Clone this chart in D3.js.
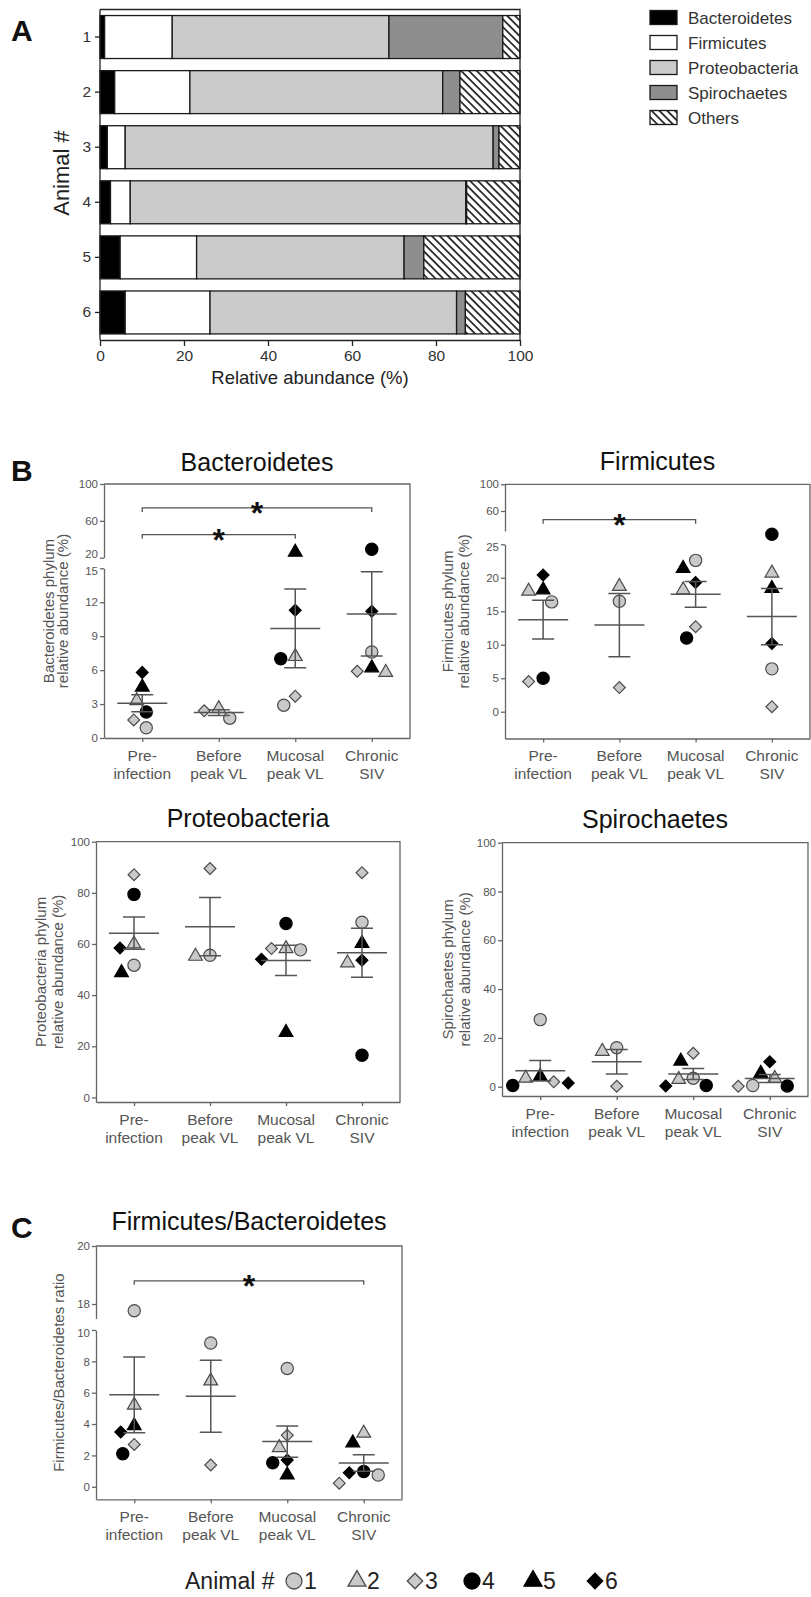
<!DOCTYPE html>
<head>
  <meta charset="utf-8">
  <style>
    body { margin: 0; background: #fff; }
    svg text { font-family: "Liberation Sans", Arial, sans-serif; }
  </style>
  <script src="https://cdn.jsdelivr.net/npm/d3@7"></script>
</head>
<body>
<script>
// ---- panel A: composition per animal (%)
const animals = ['1', '2', '3', '4', '5', '6'];
const phyla = ['Bacteroidetes', 'Firmicutes', 'Proteobacteria', 'Spirochaetes', 'Others'];
const compBacteroidetes  = [1.1, 3.5, 1.75, 2.5, 4.8, 6.0];
const compFirmicutes     = [16.1, 17.9, 4.25, 4.7, 18.2, 20.2];
const compProteobacteria = [51.6, 60.2, 87.6, 79.9, 49.4, 58.7];
const compSpirochaetes   = [27.1, 4.1, 1.4, 0.2, 4.7, 2.1];
const compOthers         = [4.1, 14.3, 5.0, 12.7, 22.9, 13.0];
const abundanceTicks = [0, 20, 40, 60, 80, 100];

// ---- panels B/C: one row per time point, animals 1..6 (null = no sample)
const timepoints = [['Pre-', 'infection'], ['Before', 'peak VL'], ['Mucosal', 'peak VL'], ['Chronic', 'SIV']];
const bacteroidetes = [
  [0.9, 3.3, 1.6, 2.3, 4.5, 5.8],
  [1.75, 2.6, 2.4, null, null, null],
  [2.9, 7.2, 3.7, 7.0, 26, 11.3],
  [7.6, 5.8, 5.9, 29.1, 6.2, 11.2]
];
const firmicutes = [
  [16.4, 18.0, 4.5, 5.0, 18.2, 20.4],
  [16.5, 18.7, 3.6, null, null, null],
  [22.6, 18.2, 12.7, 11.0, 21.4, 19.3],
  [6.4, 20.7, 0.75, 28.8, 18.4, 10.2]
];
const proteobacteria = [
  [51.7, 60, 87.1, 79.4, 48.8, 58.4],
  [55.6, 55.2, 89.5, null, null, null],
  [57.7, 58.2, 58.2, 68, 25.4, 54],
  [68.5, 52.6, 87.9, 16.5, 60.2, 53.6]
];
const spirochaetes = [
  [27.5, 3.5, 2.0, 0.5, 4.2, 1.5],
  [16, 14.5, 0.2, null, null, null],
  [3.5, 3.0, 13.7, 0.5, 10.5, 0.3],
  [0.5, 3.4, 0.2, 0.3, 5.5, 10.2]
];
const fbRatio = [
  [17.77, 5.2, 2.7, 2.1, 3.9, 3.5],
  [9.17, 6.75, 1.39, null, null, null],
  [7.55, 2.5, 3.28, 1.53, 0.75, 1.7],
  [0.75, 3.42, 0.23, 0.97, 2.8, 0.9]
];
// significance brackets: [from, to, level in axis units]
const bactSig = [[0, 3, 74], [0, 2, 45]];
const firmSig = [[0, 2, 47]];
const ratioSig = [[0, 3, 18.8]];

const FONT = '"Liberation Sans", Arial, sans-serif';

const svg = d3.select('body').append('svg')
  .attr('width', 811)
  .attr('height', 1597);

const defs = svg.append('defs');
defs.append('pattern')
  .attr('id', 'hatch')
  .attr('patternUnits', 'userSpaceOnUse')
  .attr('width', 5.5).attr('height', 5.5)
  .attr('patternTransform', 'rotate(-45)')
  .call(p => {
    p.append('rect').attr('width', 5.5).attr('height', 5.5).attr('fill', '#fff');
    p.append('line').attr('x1', 1).attr('x2', 1).attr('y1', 0).attr('y2', 5.5)
      .attr('stroke', '#111').attr('stroke-width', 1.6);
  });

const letter = (t, x, y) => svg.append('text').text(t)
  .attr('x', x).attr('y', y)
  .attr('font-size', 30).attr('font-weight', 'bold').attr('fill', '#111');

// ================= Panel A =================
const drawA = () => {
  const rows = animals.map((a, i) => ({
    animal: a,
    Bacteroidetes: compBacteroidetes[i],
    Firmicutes: compFirmicutes[i],
    Proteobacteria: compProteobacteria[i],
    Spirochaetes: compSpirochaetes[i],
    Others: compOthers[i]
  }));
  const fills = ['#000', '#fff', '#cbcbcb', '#8e8e8e', 'url(#hatch)'];

  const x = d3.scaleLinear().domain([0, 100]).range([100, 520]);
  const y = d3.scaleBand().domain(animals).range([9.5, 340])
    .paddingInner(0.22).paddingOuter(0.11);

  const stack = d3.stack().keys(phyla)(rows);
  const g = svg.append('g');

  g.selectAll('g.layer')
    .data(stack)
    .enter()
    .append('g')
    .attr('fill', (d, i) => fills[i])
    .selectAll('rect')
    .data(d => d)
    .enter()
    .append('rect')
    .attr('x', d => x(d[0]))
    .attr('width', d => x(d[1]) - x(d[0]))
    .attr('y', d => y(d.data.animal))
    .attr('height', y.bandwidth())
    .attr('stroke', '#1a1a1a')
    .attr('stroke-width', 1.3);

  // frame
  g.append('path')
    .attr('d', `M100,9.5H520V340`)
    .attr('fill', 'none').attr('stroke', '#222').attr('stroke-width', 1.3);

  const xa = g.append('g').attr('transform', 'translate(0,340)')
    .call(d3.axisBottom(x).tickValues(abundanceTicks).tickSize(6).tickSizeOuter(0).tickPadding(4));
  const ya = g.append('g').attr('transform', 'translate(100,0)')
    .call(d3.axisLeft(y).tickSize(5).tickSizeOuter(0).tickPadding(4));
  [xa, ya].forEach(a => {
    a.selectAll('path,line').attr('stroke', '#222').attr('stroke-width', 1.3);
    a.selectAll('text').attr('font-size', 15.5).attr('fill', '#333').style('font-family', FONT);
  });
  ya.select('.domain').attr('d', 'M0,9.5V340');

  g.append('text').text('Relative abundance (%)')
    .attr('x', 310).attr('y', 384).attr('text-anchor', 'middle')
    .attr('font-size', 18.5).attr('fill', '#222');
  g.append('text').text('Animal #')
    .attr('transform', 'translate(69,173) rotate(-90)')
    .attr('text-anchor', 'middle').attr('font-size', 22).attr('fill', '#222');

  // legend
  const lg = g.selectAll('g.leg')
    .data(phyla)
    .enter()
    .append('g')
    .attr('transform', (d, i) => `translate(650,${10.5 + i * 25})`);
  lg.append('rect')
    .attr('width', 27).attr('height', 14)
    .attr('fill', (d, i) => fills[i])
    .attr('stroke', '#1a1a1a').attr('stroke-width', 1.3);
  lg.append('text').text(d => d)
    .attr('x', 38).attr('y', 13)
    .attr('font-size', 17).attr('fill', '#333');

  letter('A', 11, 41);
};

// ================= dot plots =================
const symbolTypes = [d3.symbolCircle, d3.symbolTriangle, d3.symbolSquare,
                     d3.symbolCircle, d3.symbolTriangle, d3.symbolSquare];
const symbolSizes = [118, 82, 70, 118, 82, 70];
const markFill = i => (i < 3 ? '#c9c9c9' : '#000');
const markStroke = i => (i < 3 ? '#4a4a4a' : '#000');
const markPath = (i, k = 1) => d3.symbol().type(symbolTypes[i]).size(symbolSizes[i] * k)();

const swarm = (pts, diam) => {
  const placed = [];
  pts.slice().sort((a, b) => a.py - b.py).forEach(p => {
    for (let k = 0; k < 80; k += 0.5) {
      let ok = false;
      for (const s of [-1, 1]) {
        const dx = k * s;
        if (placed.every(q => Math.hypot(q.dx - dx, q.py - p.py) >= diam)) {
          p.dx = dx; ok = true; break;
        }
      }
      if (ok) break;
    }
    placed.push(p);
  });
};

const dotPanel = cfg => {
  const { values, left, right, top, bottom, lower, upper, title, titleY, ylab, ylabX, sig } = cfg;
  const g = svg.append('g');
  const axisCol = '#666', txtCol = '#555';

  const x = d3.scalePoint().domain(d3.range(timepoints.length)).range([left, right]).padding(0.5);
  const lo = d3.scaleLinear().domain(lower.domain).range([bottom, upper ? lower.top : top]);
  const up = upper ? d3.scaleLinear().domain(upper.domain).range([upper.bottom, top]) : null;
  const y = v => {
    if (!up || v <= lower.domain[1]) return lo(v);
    if (v >= upper.domain[0]) return up(v);
    const t = (v - lower.domain[1]) / (upper.domain[0] - lower.domain[1]);
    return lower.top + t * (upper.bottom - lower.top);
  };

  // axes (lower and, when broken, upper segment)
  const styleAxis = a => {
    a.selectAll('path,line').attr('stroke', axisCol).attr('stroke-width', 1.3);
    a.selectAll('text').attr('font-size', 11.5).attr('fill', txtCol).style('font-family', FONT);
    return a;
  };
  const loAxis = styleAxis(g.append('g').attr('transform', `translate(${left},0)`)
    .call(d3.axisLeft(lo).tickValues(lower.ticks).tickFormat(d3.format('d'))
      .tickSize(4).tickSizeOuter(0).tickPadding(2)));
  if (up) {
    const upAxis = styleAxis(g.append('g').attr('transform', `translate(${left},0)`)
      .call(d3.axisLeft(up).tickValues(upper.ticks).tickFormat(d3.format('d'))
        .tickSize(4).tickSizeOuter(0).tickPadding(2)));
    // keep the two labels at the break apart
    const gap = upper.bottom - lower.top;
    if (Math.abs(gap) < 14) {
      upAxis.selectAll('.tick text').filter(d => d === upper.domain[0]).attr('dy', '-0.05em');
      loAxis.selectAll('.tick text').filter(d => d === lower.domain[1]).attr('dy', '0.55em');
    }
  }
  styleAxis(g.append('g').attr('transform', `translate(0,${bottom})`)
    .call(d3.axisBottom(x).tickSize(4).tickSizeOuter(0).tickFormat('')));
  g.append('path')
    .attr('d', `M${left},${top}H${right}V${bottom}`)
    .attr('fill', 'none').attr('stroke', axisCol).attr('stroke-width', 1.3);

  // category labels
  timepoints.forEach((lines, i) => {
    lines.forEach((t, j) => g.append('text').text(t)
      .attr('x', x(i)).attr('y', bottom + 22.5 + j * 18)
      .attr('text-anchor', 'middle').attr('font-size', 15.5).attr('fill', txtCol));
  });

  // title and y label
  g.append('text').text(title)
    .attr('x', (left + right) / 2).attr('y', titleY)
    .attr('text-anchor', 'middle').attr('font-size', 25).attr('fill', '#111');
  const cy = (top + bottom) / 2;
  ylab.forEach((t, j) => g.append('text').text(t)
    .attr('transform', `translate(${ylabX[j]},${cy}) rotate(-90)`)
    .attr('text-anchor', 'middle').attr('font-size', 15).attr('fill', txtCol));

  // points
  values.forEach((vals, ti) => {
    const pts = [];
    vals.forEach((v, ai) => { if (v != null) pts.push({ v, ai, py: y(v), dx: 0 }); });
    swarm(pts, 14.5);
    pts.sort((a, b) => a.ai - b.ai);
    g.selectAll(null)
      .data(pts)
      .enter()
      .append('path')
      .attr('d', d => markPath(d.ai))
      .attr('transform', d => `translate(${x(ti) + d.dx},${d.py})` +
        (symbolTypes[d.ai] === d3.symbolSquare ? ' rotate(45)' : ''))
      .attr('fill', d => markFill(d.ai))
      .attr('stroke', d => markStroke(d.ai))
      .attr('stroke-width', 1.2);

    // mean +/- SEM
    const nums = pts.map(p => p.v);
    const m = d3.mean(nums);
    const sem = d3.deviation(nums) / Math.sqrt(nums.length);
    const cx = x(ti);
    g.append('path')
      .attr('d', `M${cx - 25},${y(m)}H${cx + 25}` +
        `M${cx},${y(m + sem)}V${y(m - sem)}` +
        `M${cx - 11},${y(m + sem)}H${cx + 11}` +
        `M${cx - 11},${y(m - sem)}H${cx + 11}`)
      .attr('fill', 'none').attr('stroke', '#555').attr('stroke-width', 1.5);
  });

  // significance
  (sig || []).forEach(([a, b, lv]) => {
    const yb = y(lv);
    g.append('path')
      .attr('d', `M${x(a)},${yb + 4}V${yb}H${x(b)}V${yb + 4}`)
      .attr('fill', 'none').attr('stroke', '#555').attr('stroke-width', 1.3);
    g.append('text').text('*')
      .attr('x', (x(a) + x(b)) / 2).attr('y', yb + 16)
      .attr('text-anchor', 'middle').attr('font-size', 32).attr('font-weight', 'bold')
      .attr('fill', '#111');
  });
};

drawA();

letter('B', 11, 481);
dotPanel({
  values: bacteroidetes, left: 104, right: 410, top: 484, bottom: 738,
  lower: { domain: [0, 15], top: 568.3, ticks: [0, 3, 6, 9, 12, 15] },
  upper: { domain: [20, 100], bottom: 557.7, ticks: [20, 60, 100] },
  title: 'Bacteroidetes', titleY: 471,
  ylab: ['Bacteroidetes phylum', 'relative abundance (%)'], ylabX: [54, 68],
  sig: bactSig
});
dotPanel({
  values: firmicutes, left: 505, right: 810, top: 484.3, bottom: 738.5,
  lower: { domain: [-4, 25], top: 544.3, ticks: [0, 5, 10, 15, 20, 25] },
  upper: { domain: [30, 100], bottom: 531, ticks: [60, 100] },
  title: 'Firmicutes', titleY: 470,
  ylab: ['Firmicutes phylum', 'relative abundance (%)'], ylabX: [453, 469],
  sig: firmSig
});
dotPanel({
  values: proteobacteria, left: 96, right: 400, top: 841.7, bottom: 1102,
  lower: { domain: [-1.8, 100], ticks: [0, 20, 40, 60, 80, 100] },
  title: 'Proteobacteria', titleY: 827,
  ylab: ['Proteobacteria phylum', 'relative abundance (%)'], ylabX: [46, 63]
});
dotPanel({
  values: spirochaetes, left: 502, right: 808, top: 842.7, bottom: 1096,
  lower: { domain: [-3.8, 100], ticks: [0, 20, 40, 60, 80, 100] },
  title: 'Spirochaetes', titleY: 828,
  ylab: ['Spirochaetes phylum', 'relative abundance (%)'], ylabX: [453, 470]
});

letter('C', 11, 1238);
dotPanel({
  values: fbRatio, left: 96, right: 402, top: 1246, bottom: 1499.3,
  lower: { domain: [-0.8, 10], top: 1330, ticks: [0, 2, 4, 6, 8, 10] },
  upper: { domain: [17.5, 20], bottom: 1318.5, ticks: [18, 20] },
  title: 'Firmicutes/Bacteroidetes', titleY: 1230,
  ylab: ['Firmicutes/Bacteroidetes ratio'], ylabX: [64],
  sig: ratioSig
});

// animal legend
const leg = svg.append('g');
leg.append('text').text('Animal #')
  .attr('x', 185).attr('y', 1589).attr('font-size', 23).attr('fill', '#222');
const legX = [294, 357, 415, 472, 533, 595];
animals.forEach((a, i) => {
  leg.append('path')
    .attr('d', markPath(i, 1.7))
    .attr('transform', `translate(${legX[i]},1581)` + (i % 3 === 2 ? ' rotate(45)' : ''))
    .attr('fill', markFill(i)).attr('stroke', markStroke(i)).attr('stroke-width', 1.3);
  leg.append('text').text(a)
    .attr('x', legX[i] + 10).attr('y', 1589).attr('font-size', 23).attr('fill', '#222');
});
</script>
</body>
